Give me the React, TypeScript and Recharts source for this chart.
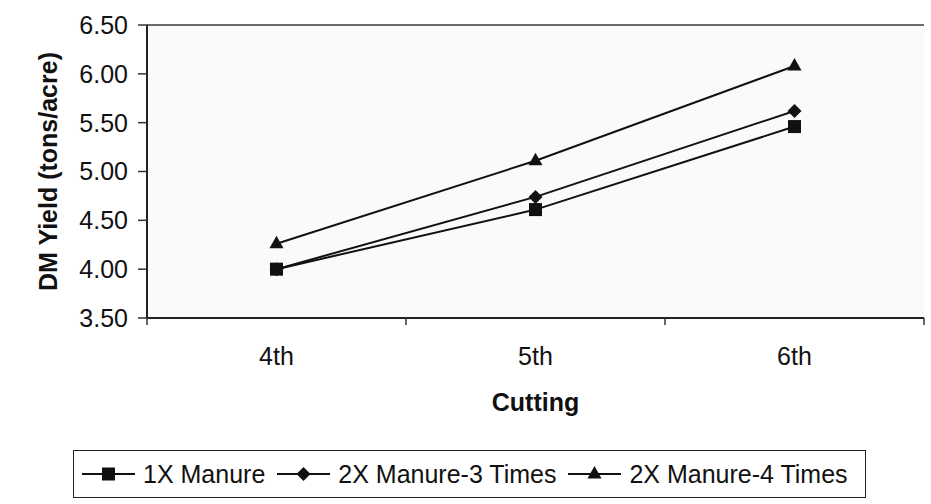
import React from 'react';
import {
  LineChart,
  Line,
  XAxis,
  YAxis,
  CartesianGrid,
  Legend,
} from 'recharts';

const categories = ['4th', '5th', '6th'];
const manure1x = [4.0, 4.61, 5.46];
const manure2x3 = [4.0, 4.74, 5.62];
const manure2x4 = [4.26, 5.11, 6.08];
const yTicks = [3.5, 4.0, 4.5, 5.0, 5.5, 6.0, 6.5];

const seriesNames = ['1X Manure', '2X Manure-3 Times', '2X Manure-4 Times'];

const data = categories.map((c, i) => ({
  cutting: c,
  m1: manure1x[i],
  m23: manure2x3[i],
  m24: manure2x4[i],
}));

const FONT = '"Liberation Sans", Arial, sans-serif';
const INK = '#111';

type Shape = 'square' | 'diamond' | 'triangle';

const marker = (shape: Shape, cx: number, cy: number, key?: string) => {
  if (shape === 'square') {
    return <rect key={key} x={cx - 6.5} y={cy - 6.5} width={13} height={13} fill={INK} />;
  }
  if (shape === 'diamond') {
    return (
      <path
        key={key}
        d={`M${cx},${cy - 7} L${cx + 7},${cy} L${cx},${cy + 7} L${cx - 7},${cy} Z`}
        fill={INK}
      />
    );
  }
  return (
    <path
      key={key}
      d={`M${cx},${cy - 8} L${cx + 7},${cy + 4.5} L${cx - 7},${cy + 4.5} Z`}
      fill={INK}
    />
  );
};

const makeDot = (shape: Shape) => (props: any) => {
  const { cx, cy, index } = props;
  if (cx == null || cy == null) return <g key={`n${index}`} />;
  return marker(shape, cx, cy, `${shape}${index}`);
};

const legendShapes: Shape[] = ['square', 'diamond', 'triangle'];

const LegendContent = () => (
  <div
    style={{
      boxSizing: 'border-box',
      width: 793,
      height: 48,
      border: '1.5px solid #222',
      display: 'flex',
      alignItems: 'center',
      paddingLeft: 8,
      fontFamily: FONT,
      fontSize: 25,
      color: INK,
      background: '#fff',
    }}
  >
    {seriesNames.map((name, i) => (
      <div key={name} style={{ display: 'flex', alignItems: 'center', marginRight: 12 }}>
        <svg width={53} height={20} style={{ marginRight: 8 }}>
          <line x1={0} y1={10} x2={53} y2={10} stroke={INK} strokeWidth={2} />
          {marker(legendShapes[i], 26.5, 10)}
        </svg>
        <span style={{ whiteSpace: 'nowrap' }}>{name}</span>
      </div>
    ))}
  </div>
);

const XTick = (props: any) => {
  const { x, y, payload, index } = props;
  const off = typeof payload?.offset === 'number' ? payload.offset : 0;
  return (
    <g>
      {off > 0 && (
        <line x1={x - off} y1={y - 8} x2={x - off} y2={y - 1} stroke="#333" strokeWidth={1.5} />
      )}
      {off > 0 && index === categories.length - 1 && (
        <line x1={x + off} y1={y - 8} x2={x + off} y2={y - 1} stroke="#333" strokeWidth={1.5} />
      )}
      <text
        x={x}
        y={y}
        dy={39}
        textAnchor="middle"
        fontFamily={FONT}
        fontSize={25}
        fill={INK}
      >
        {payload.value}
      </text>
    </g>
  );
};

const YLabel = (props: any) => {
  const vb = props.viewBox || {};
  const cy = (vb.y ?? 25) + (vb.height ?? 293) / 2;
  const x = 57;
  return (
    <text
      x={x}
      y={cy}
      transform={`rotate(-90 ${x} ${cy})`}
      textAnchor="middle"
      fontFamily={FONT}
      fontWeight="bold"
      fontSize={25}
      fill={INK}
    >
      DM Yield (tons/acre)
    </text>
  );
};

export default function App() {
  return (
    <div style={{ position: 'absolute', left: 0, top: 0, width: 931, height: 504, background: '#fff' }}>
      <LineChart
        width={931}
        height={504}
        data={data}
        margin={{ top: 25, right: 7, left: 0, bottom: 0 }}
      >
        <CartesianGrid
          vertical={false}
          stroke="#3a3a3a"
          strokeWidth={1.5}
          fill="#fafafa"
          fillOpacity={1}
        />
        <XAxis
          dataKey="cutting"
          scale="band"
          height={186}
          tickLine={false}
          tickSize={8}
          tickMargin={0}
          axisLine={{ stroke: '#222', strokeWidth: 2 }}
          tick={<XTick />}
          interval={0}
          label={{
            value: 'Cutting',
            position: 'insideTop',
            offset: 75,
            style: { fontFamily: FONT, fontWeight: 'bold', fontSize: 25, fill: INK },
          }}
        />
        <YAxis
          yAxisId="left"
          width={147}
          domain={[3.5, 6.5]}
          ticks={yTicks}
          interval={0}
          tickFormatter={(v: number) => v.toFixed(2)}
          tickSize={9}
          tickMargin={10}
          tickLine={{ stroke: '#333', strokeWidth: 1.5 }}
          axisLine={{ stroke: '#222', strokeWidth: 2 }}
          tick={{ fontFamily: FONT, fontSize: 25, fill: INK }}
          label={<YLabel />}
        />
        <YAxis
          yAxisId="right"
          orientation="right"
          width={0}
          domain={[3.5, 6.5]}
          tick={false}
          tickLine={false}
          axisLine={{ stroke: '#222', strokeWidth: 2 }}
        />
        <Legend
          layout="horizontal"
          verticalAlign="middle"
          align="center"
          wrapperStyle={{ position: 'absolute', left: 73, top: 450, width: 793, height: 48 }}
          content={<LegendContent />}
        />
        <Line
          yAxisId="left"
          type="linear"
          dataKey="m23"
          name={seriesNames[1]}
          stroke={INK}
          strokeWidth={2}
          dot={makeDot('diamond')}
          activeDot={false}
          isAnimationActive={false}
        />
        <Line
          yAxisId="left"
          type="linear"
          dataKey="m1"
          name={seriesNames[0]}
          stroke={INK}
          strokeWidth={2}
          dot={makeDot('square')}
          activeDot={false}
          isAnimationActive={false}
        />
        <Line
          yAxisId="left"
          type="linear"
          dataKey="m24"
          name={seriesNames[2]}
          stroke={INK}
          strokeWidth={2}
          dot={makeDot('triangle')}
          activeDot={false}
          isAnimationActive={false}
        />
      </LineChart>
    </div>
  );
}
